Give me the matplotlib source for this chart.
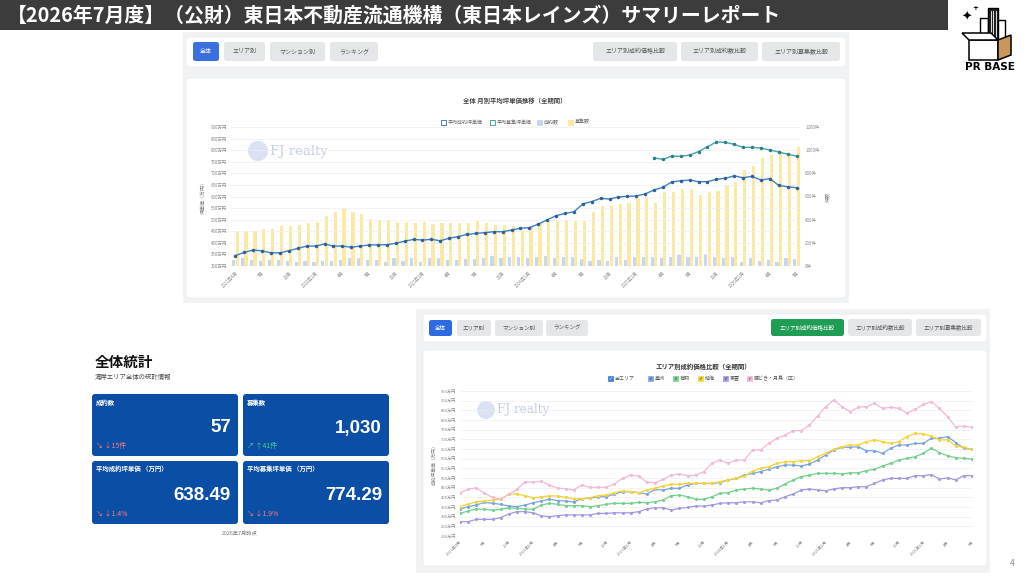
import numpy as np
import matplotlib
matplotlib.use("Agg")
import matplotlib.pyplot as plt
from matplotlib.patches import FancyBboxPatch, Rectangle, Circle, Polygon

plt.rcParams['font.family'] = ['Noto Sans CJK JP', 'DejaVu Sans']

# ---- data ----
tick_labels = ["2021年4月", "7月", "10月", "2022年1月", "4月", "7月", "10月", "2023年1月",
               "4月", "7月", "10月", "2024年1月", "4月", "7月", "10月", "2025年1月",
               "4月", "7月", "10月", "2026年1月", "4月", "7月"]

# 平均成約坪単価 (万円)
avg_contract = [345, 359, 369, 365, 357, 357, 366, 376, 386, 386, 395, 386, 386, 381, 386, 391,
                391, 392, 398, 407, 415, 412, 415, 409, 420, 427, 436, 441, 444, 448, 448, 455,
                463, 465, 481, 499, 517, 527, 534, 568, 578, 592, 589, 598, 601, 602, 611, 628,
                640, 663, 668, 671, 664, 664, 674, 679, 689, 681, 687, 671, 677, 648, 642, 638]
# 平均募集坪単価 (万円) - only recent months
avg_listing = [None] * 47 + [767, 760, 775, 773, 779, 794, 815, 835, 834, 825, 812, 812,
                             809, 801, 792, 783, 774]
# 成約数
contracts = [55, 68, 52, 40, 50, 56, 45, 38, 42, 36, 40, 46, 55, 70, 66, 52, 50, 38, 68, 40,
             66, 38, 70, 66, 54, 52, 60, 62, 68, 90, 66, 82, 80, 67, 82, 90, 67, 82, 76, 61,
             47, 53, 47, 76, 53, 76, 76, 82, 67, 76, 96, 76, 82, 105, 82, 67, 76, 38, 67, 47,
             53, 38, 67, 57]
# 募集数
listings = [292, 301, 301, 321, 321, 344, 344, 356, 368, 382, 432, 467, 490, 470, 447, 409,
            397, 397, 379, 379, 368, 379, 359, 368, 368, 374, 368, 388, 368, 350, 356, 344,
            315, 344, 368, 388, 388, 397, 388, 388, 467, 519, 519, 531, 543, 587, 607, 543,
            636, 642, 665, 665, 613, 642, 651, 700, 729, 826, 864, 934, 957, 1001, 963, 1030]

# エリア別成約坪単価 (万円)
toyosu = [338, 352, 360, 374, 369, 364, 355, 352, 360, 372, 381, 390, 383, 381, 376, 393,
          395, 403, 403, 416, 429, 429, 424, 417, 441, 438, 447, 447, 464, 472, 472, 472,
          476, 490, 498, 515, 524, 533, 545, 558, 567, 567, 562, 572, 593, 619, 645, 659,
          659, 662, 641, 641, 628, 654, 671, 671, 679, 679, 705, 705, 714, 683, 654, 648]
ariake = [317, 329, 340, 338, 334, 338, 346, 343, 340, 338, 360, 369, 364, 357, 357, 357,
          352, 357, 364, 369, 369, 369, 374, 372, 377, 386, 409, 412, 403, 390, 390, 403,
          421, 424, 438, 443, 447, 443, 438, 447, 469, 490, 507, 515, 524, 524, 524, 521,
          527, 527, 538, 545, 562, 576, 593, 602, 610, 628, 654, 631, 615, 605, 602, 597]
harumi = [352, 364, 377, 381, 386, 391, 416, 417, 409, 398, 403, 407, 407, 400, 393, 393,
          398, 409, 412, 424, 433, 429, 424, 438, 447, 459, 467, 467, 472, 472, 472, 472,
          481, 490, 498, 510, 536, 550, 558, 576, 584, 584, 590, 590, 610, 628, 648, 662,
          671, 671, 688, 697, 688, 679, 688, 714, 731, 728, 717, 697, 697, 666, 659, 648]
shinonome = [274, 274, 286, 286, 286, 295, 314, 326, 326, 320, 305, 300, 305, 309, 309, 309,
             309, 317, 317, 320, 320, 320, 326, 340, 346, 346, 334, 343, 348, 355, 355, 360,
             369, 372, 372, 377, 377, 372, 383, 386, 403, 417, 438, 443, 438, 434, 443, 450,
             450, 455, 455, 472, 490, 498, 498, 498, 512, 512, 517, 495, 501, 490, 512, 512]
kachidoki = [424, 441, 450, 421, 400, 390, 416, 441, 481, 478, 483, 464, 447, 445, 438, 464,
             452, 452, 452, 469, 498, 515, 510, 478, 476, 493, 515, 521, 512, 515, 533, 576,
             593, 576, 593, 593, 645, 645, 679, 705, 722, 745, 745, 774, 821, 869, 903, 869,
             843, 866, 869, 886, 860, 866, 860, 835, 855, 881, 895, 860, 817, 765, 769, 762]

area_names = ["豊洲", "有明", "晴海", "東雲", "勝どき・月島（区）"]
area_colors = ["#78a3e6", "#74cf8e", "#f2d338", "#a597e4", "#f2b8d8"]
area_series = [toyosu, ariake, harumi, shinonome, kachidoki]

W, H = 1024, 576
fig = plt.figure(figsize=(W / 100, H / 100), dpi=100)
bg = fig.add_axes([0, 0, 1, 1])
bg.set_xlim(0, W)
bg.set_ylim(H, 0)
bg.axis('off')


def rbox(x0, y0, x1, y1, fc, ec='none', lw=0, r=3, z=1):
    bg.add_patch(FancyBboxPatch((x0, y0), x1 - x0, y1 - y0,
                                boxstyle=f"round,pad=0,rounding_size={r}",
                                fc=fc, ec=ec, lw=lw, zorder=z))


def button(x0, y0, x1, y1, label, fc='#e4e6ea', tc='#555555', fs=4.3):
    rbox(x0, y0, x1, y1, fc, r=2.5, z=3)
    bg.text((x0 + x1) / 2, (y0 + y1) / 2, label, ha='center', va='center',
            fontsize=fs, color=tc, zorder=4)


def px_axes(x0, y0, x1, y1):
    return fig.add_axes([x0 / W, 1 - y1 / H, (x1 - x0) / W, (y1 - y0) / H])


def watermark(x, y, s):
    bg.add_patch(Circle((x, y), 1.0 * s, fc='#c9d5ef', ec='none', alpha=0.7, zorder=2))
    bg.text(x + 1.2 * s, y, "FJ realty", fontsize=0.95 * s, family='DejaVu Serif',
            color='#c4cfe6', va='center', ha='left', zorder=2)


# ---- title bar ----
bg.add_patch(Rectangle((0, 0), 948, 30, fc='#3c3c3c', ec='none', zorder=1))
bg.text(7, 15, "【2026年7月度】（公財）東日本不動産流通機構（東日本レインズ）サマリーレポート",
        color='white', fontsize=14.3, fontweight='bold', va='center', ha='left', zorder=2)

# ---- logo ----
bg.text(967, 17, "✦", fontsize=9, color='black', ha='center', va='center', zorder=5,
        family='DejaVu Sans')
bg.text(975, 8, "+", fontsize=5, color='black', ha='center', va='center', zorder=5,
        fontweight='bold', family='DejaVu Sans')
bg.add_patch(Rectangle((980, 18), 8, 22, fc='white', ec='black', lw=1, zorder=4))
bg.add_patch(Rectangle((988, 8), 10, 32, fc='#222222', ec='black', lw=1, zorder=4))
for xl in (990.5, 993, 995.5):
    bg.plot([xl, xl], [11, 38], color='white', lw=0.6, zorder=5)
bg.add_patch(Rectangle((998, 20), 7, 20, fc='white', ec='black', lw=1, zorder=4))
bg.add_patch(Polygon([[969, 40], [998, 40], [998, 60], [969, 60]], closed=True,
                     fc='white', ec='black', lw=1.1, zorder=6))
bg.add_patch(Polygon([[998, 40], [1011, 35], [1011, 55], [998, 60]], closed=True,
                     fc='#c9965c', ec='black', lw=1.1, zorder=6))
bg.add_patch(Polygon([[969, 40], [962, 33], [991, 33], [998, 40]], closed=True,
                     fc='white', ec='black', lw=1.1, zorder=6))
bg.text(990, 67, "PR BASE", fontsize=7.5, fontweight='bold', color='black',
        ha='center', va='center', family='DejaVu Sans', zorder=6)

# ---- top screenshot ----
rbox(183, 32, 849, 303, '#f1f2f4', r=0, z=1)
rbox(186, 37, 846, 67, 'white', ec='#e3e5e8', lw=0.4, r=3, z=2)
button(193, 42, 219, 61, "全体", fc='#3b6fe0', tc='white')
button(224, 42, 265, 61, "エリア別")
button(270, 42, 325, 61, "マンション別")
button(330, 42, 378, 61, "ランキング")
button(593, 42, 677, 61, "エリア別成約価格比較")
button(681, 42, 758, 61, "エリア別成約数比較")
button(762, 42, 840, 61, "エリア別募集数比較")
rbox(186, 78, 846, 298, 'white', ec='#e3e5e8', lw=0.4, r=3, z=2)
bg.text(515, 100, "全体 月別平均坪単価推移（全期間）", fontsize=4.6, fontweight='bold',
        color='#444444', ha='center', va='center', zorder=3)

top_legend = [(443, "平均成約坪単価", 'white', '#3f7fc8'),
              (492, "平均募集坪単価", 'white', '#43a5ad'),
              (539, "成約数", '#c9d6f3', '#c9d6f3'),
              (570, "募集数", '#fbe9a2', '#fbe9a2')]
for lx, name, fc, ec in top_legend:
    bg.add_patch(Rectangle((lx - 2.5, 119.5), 5, 5, fc=fc, ec=ec, lw=0.7, zorder=3))
    bg.text(lx + 5, 122, name, fontsize=3.6, color='#666666', va='center', ha='left', zorder=3)
watermark(258, 151, 10)

x = np.arange(len(avg_contract))
ax_line = px_axes(231, 127, 801, 266)
ax_bar = ax_line.twinx()
ax_bar.bar(x - 0.19, contracts, width=0.36, color='#c9d6f3', zorder=2)
ax_bar.bar(x + 0.19, listings, width=0.36, color='#fbe9a2', zorder=2)
ax_bar.set_ylim(0, 1200)
ax_bar.set_yticks(range(0, 1201, 200))
ax_bar.set_yticklabels([f"{v}件" for v in range(0, 1201, 200)])
ax_bar.set_ylabel("件数", fontsize=3.6, color='#777777', labelpad=4)

lst = np.array([np.nan if v is None else v for v in avg_listing], dtype=float)
ax_line.plot(x, avg_contract, color='#3f7fc8', lw=1.0, marker='o', ms=1.5,
             mfc='#2f5f98', mec='#2f5f98', zorder=5)
ax_line.plot(x, lst, color='#43a5ad', lw=1.0, marker='o', ms=1.5,
             mfc='#2f7f86', mec='#2f7f86', zorder=5)
ax_line.set_ylim(300, 900)
ax_line.set_yticks(range(300, 901, 50))
ax_line.set_yticklabels([f"{v}万円" for v in range(300, 901, 50)])
ax_line.set_ylabel("坪単価（万円）", fontsize=3.6, color='#777777', labelpad=4)
ax_line.set_xlim(-0.5, len(x) - 0.5)
ax_line.set_xticks(range(0, len(x), 3))
ax_line.set_xticklabels(tick_labels, rotation=45, ha='right', rotation_mode='anchor')
ax_line.grid(axis='y', color='#eeeeee', lw=0.5)
ax_line.set_axisbelow(True)
ax_line.set_zorder(ax_bar.get_zorder() + 1)
ax_line.patch.set_visible(False)
ax_bar.patch.set_visible(False)
for a in (ax_line, ax_bar):
    a.tick_params(length=0, labelsize=3.2, labelcolor='#8a8a8a', pad=3)
    for s in a.spines.values():
        s.set_visible(False)

# ---- stats ----
bg.text(95, 362, "全体統計", fontsize=10.5, fontweight='bold', color='#111111',
        va='center', ha='left', zorder=3)
bg.text(95, 377, "湾岸エリア全体の統計情報", fontsize=4.6, color='#444444',
        va='center', ha='left', zorder=3)
cards = [(92, 394, 238, 456, "成約数", "57", "↘ ↓15件", '#ff7a7a'),
         (243, 394, 389, 456, "募集数", "1,030", "↗ ↑41件", '#3ddc84'),
         (92, 461, 238, 524, "平均成約坪単価 （万円）", "638.49", "↘ ↓1.4%", '#ff7a7a'),
         (243, 461, 389, 524, "平均募集坪単価 （万円）", "774.29", "↘ ↓1.9%", '#ff7a7a')]
for x0, y0, x1, y1, lab, val, chg, cc in cards:
    rbox(x0, y0, x1, y1, '#0b4ea6', r=3, z=2)
    bg.text(x0 + 4, y0 + 8, lab, fontsize=4.6, fontweight='bold', color='white',
            va='center', ha='left', zorder=3)
    bg.text(x1 - 7, y0 + 34, val, fontsize=13.5, fontweight='bold', color='white',
            va='center', ha='right', family='Liberation Sans', zorder=3)
    bg.text(x0 + 4, y1 - 10, chg, fontsize=5, color=cc, va='center', ha='left', zorder=3)
bg.text(240, 534, "2026年7月時点", fontsize=3.8, color='#777777', ha='center', va='center')

# ---- bottom screenshot ----
rbox(416, 309, 990, 573, '#f1f2f4', r=0, z=1)
rbox(423, 314, 987, 342, 'white', ec='#e3e5e8', lw=0.4, r=3, z=2)
button(429, 320, 452, 336, "全体", fc='#2f6ae3', tc='white', fs=4.0)
button(457, 320, 491, 336, "エリア別", fs=4.0)
button(495, 320, 543, 336, "マンション別", fs=4.0)
button(546, 320, 588, 336, "ランキング", fs=4.0)
button(771, 319, 844, 336, "エリア別成約価格比較", fc='#1f9d55', tc='white', fs=4.0)
button(848, 319, 912, 336, "エリア別成約数比較", fs=4.0)
button(916, 319, 981, 336, "エリア別募集数比較", fs=4.0)
rbox(423, 350, 987, 566, 'white', ec='#e3e5e8', lw=0.4, r=3, z=2)
bg.text(703, 367, "エリア別成約価格比較（全期間）", fontsize=4.6, fontweight='bold',
        color='#333333', ha='center', va='center', zorder=3)

leg_items = [(610, "全エリア", '#3b7ddd')] + list(zip([650, 675, 700, 725, 749],
                                                     area_names, area_colors))
for lx, name, col in leg_items:
    bg.add_patch(Rectangle((lx - 2.5, 375.5), 5, 5, fc=col, ec=col, lw=0.5, zorder=3))
    bg.text(lx, 378.2, "✓", fontsize=3.5, color='#333333' if lx > 610 else 'white',
            ha='center', va='center', family='DejaVu Sans', fontweight='bold', zorder=4)
    bg.text(lx + 5, 378, name, fontsize=3.6, color='#555555', va='center', ha='left', zorder=3)
watermark(486, 410, 9)

ax2 = px_axes(460, 391, 972, 536)
xx = np.arange(len(toyosu))
for name, col, ser in zip(area_names, area_colors, area_series):
    ax2.plot(xx, ser, color=col, lw=0.9, marker='o', ms=1.2, mfc=col, mec=col, label=name)
ax2.set_xlim(0, len(xx) - 1)
ax2.set_ylim(200, 950)
ax2.set_yticks(range(200, 951, 50))
ax2.set_yticklabels([f"{v}万円" for v in range(200, 951, 50)])
ax2.set_xticks(range(0, len(xx), 3))
ax2.set_xticklabels(tick_labels, rotation=45, ha='right', rotation_mode='anchor')
ax2.set_ylabel("成約坪単価（万円）", fontsize=3.4, color='#777777', labelpad=3)
ax2.grid(axis='y', color='#eeeeee', lw=0.5)
ax2.set_axisbelow(True)
ax2.patch.set_visible(False)
ax2.tick_params(length=0, labelsize=3.0, labelcolor='#8a8a8a', pad=3)
for s in ax2.spines.values():
    s.set_visible(False)

bg.text(1012, 563, "4", fontsize=6, color='#888888', ha='center', va='center')

fig.savefig("out.png", dpi=100)
